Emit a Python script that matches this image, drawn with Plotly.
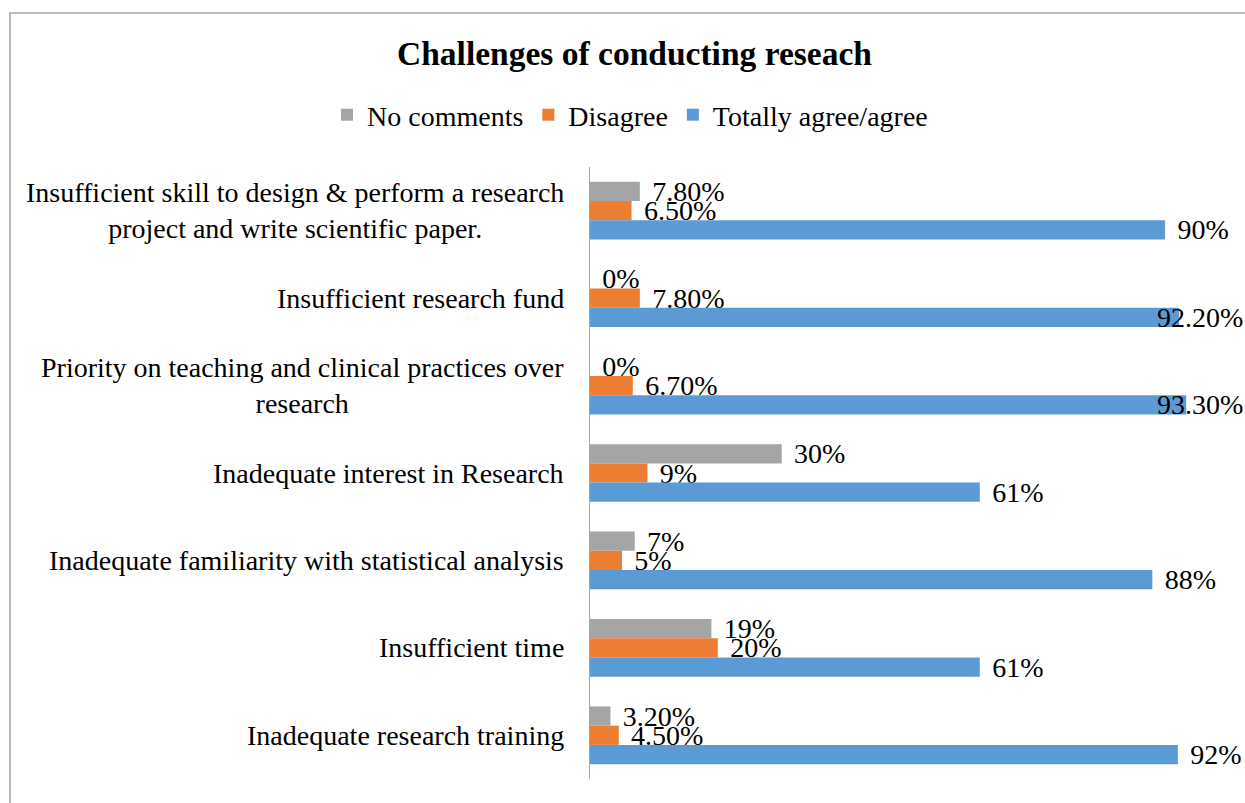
import plotly.graph_objects as go

# ---- data ----
categories = [
    "Insufficient skill to design & perform a research<br>project and write scientific paper.",
    "Insufficient research fund",
    "Priority on teaching and clinical practices over<br>research",
    "Inadequate interest in Research",
    "Inadequate familiarity with statistical analysis",
    "Insufficient time",
    "Inadequate research training",
]
no_comments = [7.8, 0, 0, 30, 7, 19, 3.2]
disagree = [6.5, 7.8, 6.7, 9, 5, 20, 4.5]
agree = [90, 92.2, 93.3, 61, 88, 61, 92]
no_comments_lbl = ["7.80%", "0%", "0%", "30%", "7%", "19%", "3.20%"]
disagree_lbl = ["6.50%", "7.80%", "6.70%", "9%", "5%", "20%", "4.50%"]
agree_lbl = ["90%", "92.20%", "93.30%", "61%", "88%", "61%", "92%"]

series = [
    ("No comments", no_comments, no_comments_lbl, "#A5A5A5"),
    ("Disagree", disagree, disagree_lbl, "#ED7D31"),
    ("Totally agree/agree", agree, agree_lbl, "#5B9BD5"),
]

FONT = "Liberation Serif, Times New Roman, serif"
FS = 28
W, H = 1245, 803
ML, MR, MT, MB = 590, 16, 167, 24
XMAX = 100
plot_w = W - ML - MR
px_per_unit = plot_w / XMAX
CHAR_W = 13.5
PAD = "\u00a0\u200a"
BARGAP = 0.34

fig = go.Figure()
annotations = []
row_h = (H - MT - MB) / len(categories)
bar_h = row_h * (1 - BARGAP) / len(series)

for si, (name, vals, lbls, color) in enumerate(series):
    texts = []
    for ci, (v, l) in enumerate(zip(vals, lbls)):
        right_edge = ML + v * px_per_unit + 16 + len(l) * CHAR_W
        if right_edge > W:
            # label clamped to the chart's right edge (as in the original)
            texts.append("")
            annotations.append(dict(
                x=1, xref="paper", xanchor="right", xshift=MR,
                y=categories[ci], yref="y", yshift=-(si - 1) * bar_h,
                text=l, showarrow=False,
                font=dict(family=FONT, size=FS, color="#000000"),
            ))
        else:
            texts.append(PAD + l)
    fig.add_trace(go.Bar(
        name=name, y=categories, x=vals, orientation="h",
        marker=dict(color=color, line=dict(width=0)),
        text=texts, textposition="outside", cliponaxis=False,
        constraintext="none",
        textfont=dict(family=FONT, size=FS, color="#000000"),
    ))

for c in categories:
    annotations.append(dict(
        x=0, xref="paper", xanchor="right", xshift=-24,
        y=c, yref="y", text=c, align="center", showarrow=False,
        font=dict(family=FONT, size=FS, color="#000000"),
    ))

fig.update_layout(
    width=W, height=H, autosize=False,
    margin=dict(l=ML, r=MR, t=MT, b=MB),
    paper_bgcolor="white", plot_bgcolor="white",
    barmode="group", bargap=BARGAP, bargroupgap=0,
    title=dict(
        text="<b>Challenges of conducting reseach</b>",
        x=634.5 / W, xref="container", xanchor="center",
        y=1 - 53 / H, yref="container", yanchor="middle",
        font=dict(family=FONT, size=33.5, color="#000000"),
    ),
    legend=dict(
        orientation="h", xref="container", yref="container",
        x=630 / W, xanchor="center", y=1 - 115 / H, yanchor="middle",
        font=dict(family=FONT, size=FS, color="#000000"),
        traceorder="normal", itemclick=False,
    ),
    xaxis=dict(visible=False, range=[0, XMAX]),
    yaxis=dict(
        autorange="reversed", showticklabels=False, ticks="",
        showline=True, linecolor="#A6A6A6", linewidth=1,
        showgrid=False, zeroline=False,
    ),
    annotations=annotations,
    shapes=[dict(
        type="rect", xref="paper", yref="paper",
        x0=(10 - ML) / plot_w, x1=(W + 20 - ML) / plot_w,
        y0=-(MB + 20) / (H - MT - MB), y1=(H - MB - 13) / (H - MT - MB),
        line=dict(color="#A6A6A6", width=1.5), fillcolor="rgba(0,0,0,0)",
        layer="below",
    )],
)

fig.write_html(
    "out.html",
    config={"displayModeBar": False},
    post_script="document.body.style.margin='0';document.body.style.overflow='hidden';",
)
